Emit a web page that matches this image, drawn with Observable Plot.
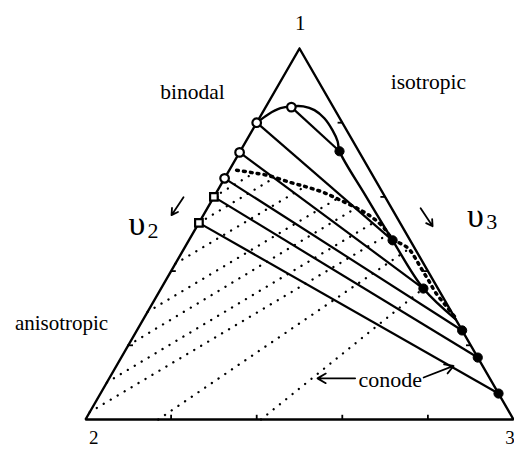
<!DOCTYPE html>
<html>
<head>
<meta charset="utf-8">
<script src="https://cdn.jsdelivr.net/npm/d3@7"></script>
<script src="https://cdn.jsdelivr.net/npm/@observablehq/plot@0.6"></script>
<style>
  body { margin: 0; background: #fff; }
  #chart svg { display: block; }
</style>
</head>
<body>
<div id="chart"></div>
<script>
// Ternary phase diagram. Compositions are volume fractions [v1, v3]; v2 = 1 - v1 - v3.
// Vertex 1 at the top, 2 bottom-left, 3 bottom-right.

const vertexLabels = ["1", "2", "3"];
const tickFractions = [0.2, 0.4, 0.6, 0.8];

// Solid conodes: anisotropic-side ends (the plait point, then the 1–2 side)
const conodeStartV1 = [0.842, 0.80, 0.72, 0.65, 0.60, 0.53];
const conodeStartV3 = [0.060, 0, 0, 0, 0, 0];
const conodeStartSymbol = ["circle", "circle", "circle", "circle", "square", "square"];
// Solid conodes: isotropic-side ends
const conodeEndV1 = [0.723, 0.483, 0.353, 0.24, 0.167, 0.07];
const conodeEndV3 = [0.232, 0.476, 0.613, 0.76, 0.833, 0.93];

// Binodal (solid curve)
const binodalV1 = [0.80, 0.823, 0.839, 0.844, 0.844, 0.834, 0.812, 0.780, 0.750, 0.723, 0.604, 0.483, 0.353, 0.27];
const binodalV3 = [0.00, 0.016, 0.036, 0.059, 0.087, 0.118, 0.152, 0.187, 0.214, 0.232, 0.352, 0.476, 0.613, 0.73];

// Heavy dotted curve
const dottedCurveV1 = [0.672, 0.666, 0.658, 0.639, 0.626, 0.612, 0.591, 0.564, 0.542, 0.518, 0.488, 0.461, 0.434, 0.407, 0.375, 0.343, 0.308, 0.278];
const dottedCurveV3 = [0.017, 0.053, 0.096, 0.159, 0.206, 0.250, 0.300, 0.361, 0.402, 0.437, 0.473, 0.524, 0.554, 0.581, 0.614, 0.646, 0.687, 0.723];

// Dotted conodes: lower-left ends and upper-right ends
const dotConodeStartV1 = [0.02, 0.10, 0.20, 0.29, 0.42, 0, 0, 0.53, 0.60];
const dotConodeStartV3 = [0, 0, 0, 0, 0, 0.17, 0.41, 0, 0];
const dotConodeEndV1 = [0.499, 0.534, 0.569, 0.596, 0.629, 0.459, 0.353, 0.653, 0.664];
const dotConodeEndV3 = [0.458, 0.411, 0.346, 0.291, 0.200, 0.525, 0.613, 0.117, 0.061];

// Ternary -> cartesian (unit side)
const H = Math.sqrt(3) / 2;
const cx = (v1, v3) => v3 + v1 / 2;
const cy = (v1) => v1 * H;

const triangle = [[1, 0], [0, 0], [0, 1], [1, 0]].map(([v1, v3]) => ({x: cx(v1, v3), y: cy(v1)}));

const conodes = conodeStartV1.map((v, i) => ({
  x1: cx(v, conodeStartV3[i]), y1: cy(v),
  x2: cx(conodeEndV1[i], conodeEndV3[i]), y2: cy(conodeEndV1[i]),
  symbol: conodeStartSymbol[i]
}));
const binodal = binodalV1.map((v, i) => ({x: cx(v, binodalV3[i]), y: cy(v)}));
const dottedCurve = dottedCurveV1.map((v, i) => ({x: cx(v, dottedCurveV3[i]), y: cy(v)}));
const dotConodes = dotConodeStartV1.map((v, i) => ({
  x1: cx(v, dotConodeStartV3[i]), y1: cy(v),
  x2: cx(dotConodeEndV1[i], dotConodeEndV3[i]), y2: cy(dotConodeEndV1[i])
}));

// Edge ticks, pointing into the triangle
const tickLen = 0.011;
const ticks = [
  ...tickFractions.map(f => ({x1: f, y1: 0, x2: f, y2: tickLen})),                              // 2–3 side
  ...tickFractions.map(f => ({x1: cx(f, 0), y1: cy(f), x2: cx(f, 0) + tickLen, y2: cy(f)})),       // 1–2 side
  ...tickFractions.map(f => ({x1: cx(f, 1 - f), y1: cy(f), x2: cx(f, 1 - f) - tickLen, y2: cy(f)})) // 1–3 side
];

// Text annotations in plot units
const annotations = [
  {text: vertexLabels[0], x: 0.502, y: 0.925, size: 21},
  {text: vertexLabels[1], x: 0.019, y: -0.043, size: 19},
  {text: vertexLabels[2], x: 0.992, y: -0.043, size: 19},
  {text: "binodal", x: 0.250, y: 0.764, size: 21.5},
  {text: "isotropic", x: 0.801, y: 0.787, size: 21.5},
  {text: "anisotropic", x: -0.056, y: 0.224, size: 21},
  {text: "conode", x: 0.712, y: 0.092, size: 22},
  {text: "υ", x: 0.120, y: 0.456, size: 34},
  {text: "2", x: 0.158, y: 0.441, size: 22},
  {text: "υ", x: 0.911, y: 0.475, size: 34},
  {text: "3", x: 0.949, y: 0.460, size: 22}
];
const arrows = [
  {x1: 0.229, y1: 0.519, x2: 0.201, y2: 0.477},
  {x1: 0.783, y1: 0.493, x2: 0.811, y2: 0.451},
  {x1: 0.630, y1: 0.096, x2: 0.542, y2: 0.096},
  {x1: 0.790, y1: 0.098, x2: 0.860, y2: 0.125}
];

const chart = Plot.plot({
  width: 514,
  height: 451,
  marginLeft: 85,
  marginRight: 1,
  marginTop: 48,
  marginBottom: 32,
  x: {domain: [0, 1], axis: null},
  y: {domain: [0, H], axis: null},
  style: {background: "#fff", fontFamily: "'Liberation Serif', 'Times New Roman', serif", overflow: "visible"},
  marks: [
    Plot.link(dotConodes, {x1: "x1", y1: "y1", x2: "x2", y2: "y2", stroke: "#000", strokeWidth: 2.3,
      strokeDasharray: "0.1,8", strokeLinecap: "round"}),
    Plot.line(dottedCurve, {x: "x", y: "y", curve: "catmull-rom", stroke: "#000", strokeWidth: 3.5,
      strokeDasharray: "1.8,5.2", strokeLinecap: "round"}),
    Plot.link(conodes, {x1: "x1", y1: "y1", x2: "x2", y2: "y2", stroke: "#000", strokeWidth: 2.2}),
    Plot.line(binodal, {x: "x", y: "y", curve: "catmull-rom", stroke: "#000", strokeWidth: 2.4}),
    Plot.line(triangle, {x: "x", y: "y", stroke: "#000", strokeWidth: 2.4, strokeLinejoin: "miter"}),
    Plot.link(ticks, {x1: "x1", y1: "y1", x2: "x2", y2: "y2", stroke: "#000", strokeWidth: 1.8}),
    Plot.dot(conodes, {x: "x2", y: "y2", r: 4.6, fill: "#000", stroke: "#000", strokeWidth: 1}),
    Plot.dot(conodes, {x: "x1", y: "y1", symbol: "symbol", r: 4.3, fill: "#fff", stroke: "#000", strokeWidth: 2.2}),
    Plot.arrow(arrows, {x1: "x1", y1: "y1", x2: "x2", y2: "y2", stroke: "#000", strokeWidth: 1.8,
      headLength: 8, bend: 0}),
    Plot.text(annotations, {x: "x", y: "y", text: "text", fontSize: "size", fill: "#000",
      textAnchor: "middle", lineAnchor: "middle"})
  ]
});
document.getElementById("chart").append(chart);
</script>
</body>
</html>
